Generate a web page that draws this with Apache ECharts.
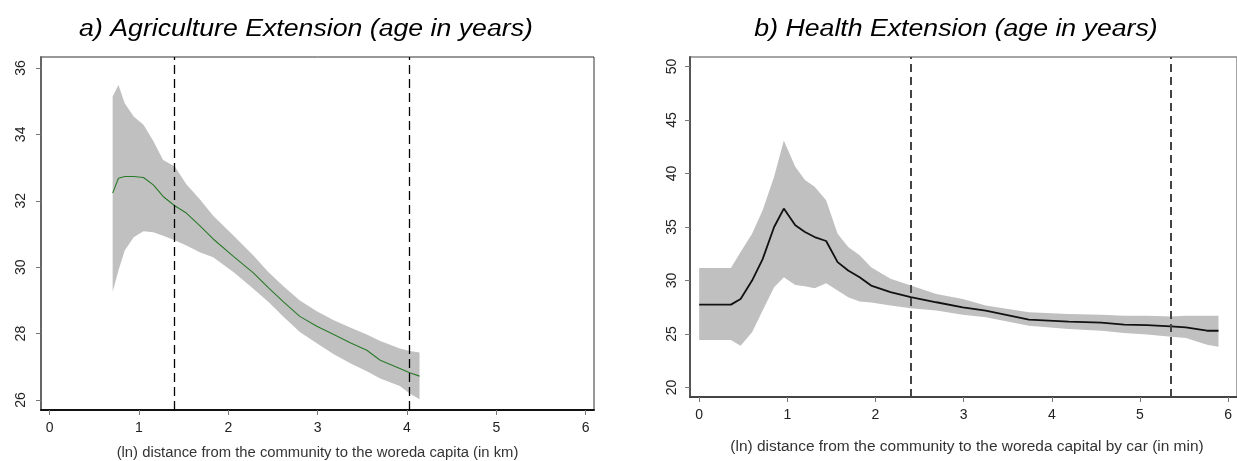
<!DOCTYPE html>
<html>
<head>
<meta charset="utf-8">
<script src="https://cdn.jsdelivr.net/npm/echarts@6/dist/echarts.min.js"></script>
<style>html,body{margin:0;padding:0;background:#fff}#c{width:1237px;height:461px}</style>
</head>
<body>
<div id="c"></div>
<script>
// ---- Panel a: Agriculture Extension ----
const agX    = [0.705, 0.77, 0.84, 0.94, 1.05, 1.16, 1.27, 1.40, 1.53, 1.68, 1.83, 2.06, 2.28, 2.45, 2.62, 2.80, 2.99, 3.18, 3.37, 3.55, 3.70, 3.92, 4.03, 4.14];
const agMean = [32.23, 32.68, 32.73, 32.73, 32.70, 32.48, 32.13, 31.85, 31.63, 31.25, 30.85, 30.32, 29.83, 29.38, 28.95, 28.52, 28.22, 27.97, 27.72, 27.50, 27.20, 26.95, 26.82, 26.72];
const agLow  = [29.26, 29.90, 30.50, 30.90, 31.08, 31.05, 30.95, 30.81, 30.65, 30.45, 30.30, 29.85, 29.35, 28.95, 28.50, 28.05, 27.71, 27.38, 27.10, 26.87, 26.65, 26.42, 26.20, 26.02];
const agUp   = [35.14, 35.49, 34.94, 34.54, 34.29, 33.80, 33.23, 33.03, 32.50, 32.05, 31.55, 30.95, 30.35, 29.85, 29.42, 29.00, 28.67, 28.40, 28.18, 27.97, 27.78, 27.55, 27.48, 27.43];
const agCut  = [1.39, 4.03];
const agXTicks = [0, 1, 2, 3, 4, 5, 6];
const agYTicks = [26, 28, 30, 32, 34, 36];

// ---- Panel b: Health Extension ----
const hX    = [0, 0.36, 0.47, 0.60, 0.72, 0.85, 0.96, 1.09, 1.20, 1.31, 1.44, 1.57, 1.69, 1.82, 1.95, 2.17, 2.40, 2.69, 2.99, 3.25, 3.74, 4.19, 4.56, 4.82, 5.08, 5.35, 5.52, 5.76, 5.89];
const hMean = [27.75, 27.75, 28.28, 30.00, 32.00, 35.00, 36.72, 35.16, 34.53, 34.06, 33.69, 31.72, 30.94, 30.31, 29.53, 28.91, 28.44, 27.97, 27.50, 27.19, 26.35, 26.16, 26.06, 25.88, 25.84, 25.72, 25.63, 25.31, 25.31];
const hLow  = [24.44, 24.44, 23.91, 25.16, 27.19, 29.38, 30.31, 29.59, 29.47, 29.28, 29.75, 29.06, 28.44, 28.03, 27.94, 27.66, 27.41, 27.19, 26.81, 26.56, 25.78, 25.47, 25.30, 25.10, 24.95, 24.75, 24.63, 24.00, 23.81];
const hUp   = [31.16, 31.16, 32.66, 34.38, 36.56, 39.69, 43.07, 40.63, 39.38, 38.75, 37.50, 34.38, 33.13, 32.35, 31.25, 30.16, 29.53, 28.75, 28.28, 27.66, 27.03, 26.88, 26.80, 26.72, 26.70, 26.63, 26.70, 26.72, 26.72];
const hCut  = [2.40, 5.35];
const hXTicks = [0, 1, 2, 3, 4, 5, 6];
const hYTicks = [20, 25, 30, 35, 40, 45, 50];

const titles = ['a) Agriculture Extension (age in years)', 'b) Health Extension (age in years)'];
const xNames = ['(ln) distance from the community to the woreda capita (in km)',
                '(ln) distance from the community to the woreda capital by car (in min)'];

const FONT = 'Liberation Sans, Arial, sans-serif';

function bandData(xs, lo, hi) { return xs.map((x, i) => [x, lo[i], hi[i]]); }
function lineData(xs, ys) { return xs.map((x, i) => [x, ys[i]]); }

function bandSeries(idx, xs, lo, hi) {
  return {
    type: 'custom', xAxisIndex: idx, yAxisIndex: idx,
    data: bandData(xs, lo, hi),
    encode: { x: 0, y: [1, 2] },
    silent: true, animation: false, z: 1,
    renderItem: function (params, api) {
      if (params.dataIndex !== 0) return null;
      const pts = [];
      for (let i = 0; i < xs.length; i++) pts.push(api.coord([xs[i], hi[i]]));
      for (let i = xs.length - 1; i >= 0; i--) pts.push(api.coord([xs[i], lo[i]]));
      return { type: 'polygon', shape: { points: pts }, style: { fill: '#c0c0c0', stroke: null } };
    }
  };
}

function xAxisCfg(idx, min, max, ticks, lineColor) {
  return {
    type: 'value', gridIndex: idx, min: min, max: max,
    splitLine: { show: false },
    axisLine: { show: true, onZero: false, lineStyle: { color: lineColor, width: 2 } },
    axisTick: { show: true, length: 5, customValues: ticks, lineStyle: { color: '#777', width: 1 } },
    axisLabel: { customValues: ticks, margin: 11, fontSize: 14, color: '#222', fontFamily: FONT }
  };
}
function yAxisCfg(idx, min, max, ticks, lineColor, margin) {
  return {
    type: 'value', gridIndex: idx, min: min, max: max,
    splitLine: { show: false },
    axisLine: { show: true, onZero: false, lineStyle: { color: lineColor, width: 2 } },
    axisTick: { show: true, length: 5, customValues: ticks, lineStyle: { color: '#777', width: 1 } },
    axisLabel: { customValues: ticks, rotate: 90, margin: margin, fontSize: 14, color: '#222', fontFamily: FONT }
  };
}

function textEl(str, x, y, font, sx, color) {
  return {
    type: 'text', x: x, y: y, scaleX: sx, silent: true,
    style: { text: str, font: font, fill: color, textAlign: 'center', textVerticalAlign: 'middle' }
  };
}

const chart = echarts.init(document.getElementById('c'), null, { renderer: 'canvas' });
chart.setOption({
  animation: false,
  backgroundColor: '#fff',
  graphic: [
    textEl(titles[0], 306, 30, 'italic 23px ' + FONT, 1.16, '#000'),
    textEl(titles[1], 956, 30, 'italic 23px ' + FONT, 1.16, '#000'),
    textEl(xNames[0], 317.5, 453, '14px ' + FONT, 1.058, '#333'),
    textEl(xNames[1], 967, 447, '14px ' + FONT, 1.104, '#333')
  ],
  grid: [
    { left: 41, top: 57, right: 643, bottom: 51, show: true, borderColor: '#333', borderWidth: 1, backgroundColor: 'transparent' },
    { left: 690, top: 57, right: -8, bottom: 64, show: true, borderColor: '#888', borderWidth: 1.5, backgroundColor: 'transparent' }
  ],
  xAxis: [
    xAxisCfg(0, -0.097, 6.093, agXTicks, '#111'),
    xAxisCfg(1, -0.104, 6.1, hXTicks, '#444')
  ],
  yAxis: [
    yAxisCfg(0, 25.7, 36.33, agYTicks, '#666', 13),
    yAxisCfg(1, 19.12, 50.88, hYTicks, '#555', 11)
  ],
  series: [
    bandSeries(0, agX, agLow, agUp),
    {
      type: 'line', xAxisIndex: 0, yAxisIndex: 0, data: lineData(agX, agMean),
      showSymbol: false, symbol: 'none', z: 3,
      lineStyle: { color: '#2a7a2a', width: 1.1 },
      markLine: {
        silent: true, symbol: ['none', 'none'], label: { show: false },
        lineStyle: { color: '#000', type: [9, 5], width: 1.3 },
        data: agCut.map(v => ({ xAxis: v }))
      }
    },
    bandSeries(1, hX, hLow, hUp),
    {
      type: 'line', xAxisIndex: 1, yAxisIndex: 1, data: lineData(hX, hMean),
      showSymbol: false, symbol: 'none', z: 3,
      lineStyle: { color: '#111', width: 1.8 },
      markLine: {
        silent: true, symbol: ['none', 'none'], label: { show: false },
        lineStyle: { color: '#444', type: [8, 5], width: 2 },
        data: hCut.map(v => ({ xAxis: v }))
      }
    }
  ]
});
</script>
</body>
</html>
